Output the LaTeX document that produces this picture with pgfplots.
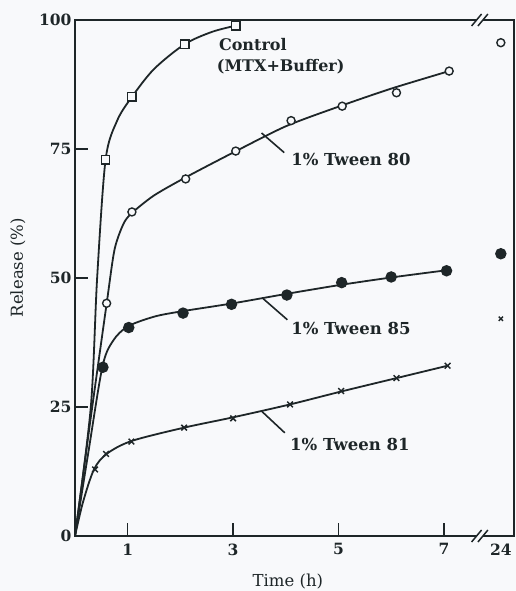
\documentclass[border=0pt]{standalone}
\usepackage{pgfplots}
\pgfplotsset{compat=1.18}
\usepackage{fontspec}
\setmainfont{DejaVu Serif}
\usetikzlibrary{backgrounds}
\definecolor{ink}{RGB}{30,38,40}
\definecolor{bg}{RGB}{248,249,251}

\begin{document}
\begin{tikzpicture}
\begin{axis}[
  scale only axis, width=439pt, height=516pt,
  xmin=0, xmax=8.33, ymin=0, ymax=100,
  axis line style={ink, line width=1.7pt},
  xtick={1,3,5,7}, ytick={0,25,50,75,100},
  extra x ticks={8.08}, extra x tick labels={24},
  extra x tick style={major tick length=0pt},
  tick pos=left, tick align=inside, major tick length=13pt,
  tick style={ink, line width=1.5pt},
  ticklabel style={font=\fontsize{15.5}{18}\selectfont\bfseries, text=ink},
  xticklabel style={yshift=-4pt},
  yticklabel style={xshift=0pt},
  /pgf/number format/assume math mode=true,
  xlabel={Time (h)}, ylabel={Release (\%)},
  every axis x label/.style={at={(axis description cs:0.485,0)}, yshift=-46pt, anchor=center},
  every axis y label/.style={at={(axis description cs:-0.13,0.52)}, rotate=90, anchor=center},
  label style={font=\fontsize{16.5}{18}\selectfont, text=ink},
  clip=false,
  every axis plot/.append style={ink, line width=1.8pt},
]
% curves
\addplot[smooth, tension=0.5, no marks] coordinates {
 (0,0) (0.3,25) (0.42,50) (0.58,72.9) (0.8,80.5) (1.08,85.1) (1.5,90.5) (2.08,95.3) (2.6,97.7) (3.05,98.9)};
\addplot[smooth, tension=0.45, no marks] coordinates {
 (0,0) (0.3,23) (0.6,45) (0.75,55.5) (0.92,60.5) (1.08,62.6) (1.5,66) (2.1,69.5) (3,74.3) (4,79.4) (5,83.2) (6,86.7) (7.1,90.1)};
\addplot[smooth, tension=0.5, no marks] coordinates {
 (0,0) (0.25,16) (0.52,32.8) (0.72,37.8) (1.0,40.6) (1.5,42.5) (2.0,43.5) (3,45.1) (4,46.9) (5,48.6) (6,50.1) (7.05,51.5)};
\addplot[smooth, tension=0.5, no marks] coordinates {
 (0,0) (0.15,6.5) (0.36,12.9) (0.6,15.9) (1.07,18.4) (2.07,21) (3,23) (4.08,25.5) (5.05,28) (6.1,30.6) (7.07,33)};
% data points
\addplot[only marks, mark=square*, mark size=4.2pt, mark options={fill=bg, line width=1.4pt}] coordinates {
 (0.58,72.9) (1.08,85.1) (2.08,95.3) (3.05,98.9)};
\addplot[only marks, mark=*, mark size=4pt, mark options={fill=bg, line width=1.4pt}] coordinates {
 (0.6,45.1) (1.08,62.8) (2.1,69.2) (3.05,74.6) (4.1,80.5) (5.07,83.3) (6.1,85.9) (7.1,90.1) (8.08,95.6)};
\addplot[only marks, mark=*, mark size=4.8pt, mark options={fill=ink}] coordinates {
 (0.53,32.7) (1.02,40.4) (2.05,43.2) (2.97,44.9) (4.02,46.7) (5.06,49.1) (6.0,50.2) (7.05,51.4) (8.08,54.7)};
\addplot[only marks, mark=x, mark size=4pt, mark options={line width=1.5pt}] coordinates {
 (0.38,12.9) (0.59,15.9) (1.07,18.3) (2.07,21.0) (3.0,22.8) (4.08,25.5) (5.05,28.1) (6.1,30.6) (7.07,33.0)};
\addplot[only marks, mark=x, mark size=3pt, mark options={line width=1.4pt}] coordinates {(8.08,42.1)};
% labels
\node[anchor=west, text=ink, font=\fontsize{16}{18}\selectfont\bfseries, inner sep=0pt] at (axis cs:2.73,95.2) {Control};
\node[anchor=west, text=ink, font=\fontsize{16}{18}\selectfont\bfseries, inner sep=0pt] at (axis cs:2.69,90.9) {(MTX+Buffer)};
\node[anchor=west, text=ink, font=\fontsize{16.5}{18}\selectfont\bfseries, inner sep=0pt] at (axis cs:4.10,72.9) {1\% Tween 80};
\node[anchor=west, text=ink, font=\fontsize{16.5}{18}\selectfont\bfseries, inner sep=0pt] at (axis cs:4.10,40.3) {1\% Tween 85};
\node[anchor=west, text=ink, font=\fontsize{16.5}{18}\selectfont\bfseries, inner sep=0pt] at (axis cs:4.08,17.8) {1\% Tween 81};
\draw[ink, line width=1.6pt] (axis cs:3.54,78.1) -- (axis cs:3.97,74.3);
\draw[ink, line width=1.6pt] (axis cs:3.57,46.0) -- (axis cs:4.03,41.9);
\draw[ink, line width=1.6pt] (axis cs:3.54,24.2) -- (axis cs:3.98,20.0);
\coordinate (bt1) at (axis cs:7.62,100);
\coordinate (bt2) at (axis cs:7.74,100);
\coordinate (bb1) at (axis cs:7.62,0);
\coordinate (bb2) at (axis cs:7.74,0);
\end{axis}
\draw[bg, line width=5pt] (bt1) -- (bt2);
\draw[bg, line width=5pt] (bb1) -- (bb2);
\foreach \p in {bt1,bt2,bb1,bb2}{
  \draw[ink, line width=1.5pt] (\p) +(-5pt,-6pt) -- +(5pt,6pt);
}
\begin{scope}[on background layer]
\fill[bg] (-75pt,-55pt) rectangle (441pt,536pt);
\end{scope}
\pgfresetboundingbox
\path[use as bounding box] (-75pt,-55pt) rectangle (441pt,536pt);
\end{tikzpicture}
\end{document}
